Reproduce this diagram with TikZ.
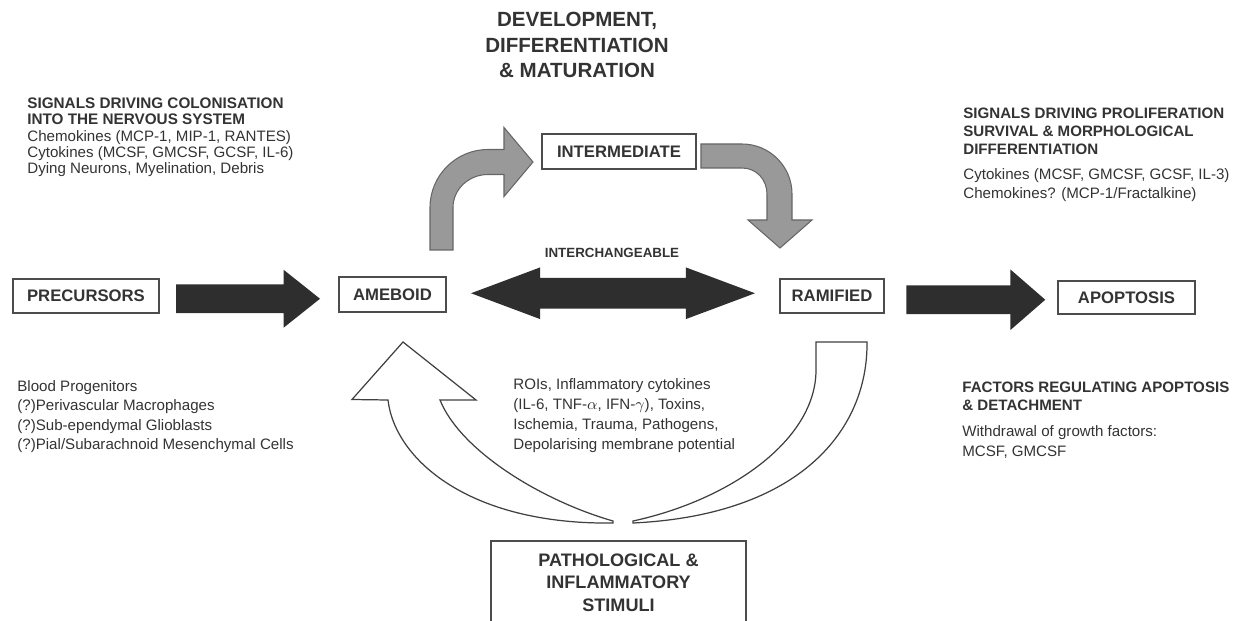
\documentclass[tikz,border=0pt]{standalone}
\usepackage{fontspec}
\setmainfont{Liberation Sans}
\usetikzlibrary{shapes.arrows,calc}

\tikzset{
  stage/.style={draw=black!70, line width=0.8pt, inner sep=0pt, text=black!80,
    font=\fontsize{9.5}{11}\selectfont\bfseries},
  head/.style={anchor=north west, inner sep=0pt, align=left, text=black!80},
  bigarrow/.style={single arrow, fill=black!82, inner xsep=0pt, inner ysep=0.28cm,
    single arrow head extend=0.29cm, single arrow tip angle=77, single arrow head indent=0pt},
  swaparrow/.style={double arrow, fill=black!82, inner xsep=0pt, inner ysep=0.3cm,
    double arrow head extend=0.21cm, double arrow tip angle=41, double arrow head indent=0pt},
  grayarrow/.style={fill=black!40, draw=black!60, line width=0.6pt},
  openarrow/.style={fill=white, draw=black!75, line width=0.7pt}
}

\begin{document}
\begin{tikzpicture}[x=0.02cm, y=-0.02cm]
\useasboundingbox (0,0) rectangle (1246,621);
% Title
\node [anchor=north, inner sep=0pt, align=center, text=black!80,
  font=\fontsize{11.7}{14.5}\selectfont\bfseries] (title) at (577,12)
  {DEVELOPMENT,\\DIFFERENTIATION\\\& MATURATION};
% Stages
\node [stage, minimum width=2.92cm, minimum height=0.68cm] (prec) at (86,296) {PRECURSORS};
\node [stage, minimum width=2.14cm, minimum height=0.70cm] (ameb) at (392.5,294.5) {AMEBOID};
\node [stage, minimum width=3.08cm, minimum height=0.70cm] (inter) at (619,151.5) {INTERMEDIATE};
\node [stage, minimum width=2.08cm, minimum height=0.68cm] (ram) at (832,296) {RAMIFIED};
\node [stage, minimum width=2.74cm, minimum height=0.66cm] (apop) at (1126.5,297.5) {APOPTOSIS};
\node [stage, minimum width=5.10cm, minimum height=1.66cm, align=center,
  font=\fontsize{10.3}{12.9}\selectfont\bfseries] (patho) at (618.5,582.5)
  {PATHOLOGICAL \&\\INFLAMMATORY\\STIMULI};
% Straight arrows
\node [bigarrow, minimum height=2.88cm, xshift=-0.2cm, yshift=-0.07cm] (toameb) at ($(prec.east)!0.5!(ameb.west)$) {};
\node [swaparrow, minimum height=5.68cm, yshift=0.04cm] (swap) at ($(ameb.east)!0.5!(ram.west)$) {};
\node [bigarrow, minimum height=2.78cm, single arrow head extend=0.32cm, single arrow tip angle=82,
  xshift=-0.07cm, yshift=-0.06cm] (toapop) at ($(ram.east)!0.5!(apop.west)$) {};
\node [anchor=north, inner sep=0pt, text=black!80, font=\fontsize{7.6}{9}\selectfont\bfseries]
  (swaplabel) at (612,248) {INTERCHANGEABLE};
% Curved grey arrows
\filldraw [grayarrow] (430,250) -- (430,207.5) .. controls (430,175.5) and (456,149.5) .. (488,149.5)
  -- (504,149.5) -- (504,127.5) -- (533,162) -- (504,196.5) -- (504,174.5) -- (488,174.5)
  .. controls (468.7,174.5) and (453,189.3) .. (453,207.5) -- (453,250) -- cycle;
\filldraw [grayarrow] (701,144) -- (742,144) .. controls (769.6,144) and (792,166.4) .. (792,194)
  -- (792,220) -- (812,220) -- (780,248) -- (748,220) -- (767,220) -- (767,194)
  .. controls (767,179.6) and (756.4,168) .. (742,168) -- (701,168) -- cycle;
% Open arrows from the stimuli
\filldraw [openarrow] (613,523) .. controls (470,525) and (395,460) .. (388,400) -- (352,399.5)
  -- (403,342) -- (476,400) -- (440,400) .. controls (460,450) and (540,500) .. (613,521) -- cycle;
\filldraw [openarrow] (633,523) .. controls (800,515) and (868,430) .. (867,342) -- (816,342)
  -- (816,370) .. controls (816,440) and (730,500) .. (633,521) -- cycle;
% Colonisation signals
\node [head, font=\fontsize{8.7}{9.1}\selectfont\bfseries] (colhead) at (27,97)
  {SIGNALS DRIVING COLONISATION\\INTO THE NERVOUS SYSTEM};
\node [head, font=\fontsize{8.6}{9.1}\selectfont] (colbody) at (27,130)
  {Chemokines (MCP-1, MIP-1, RANTES)\\Cytokines (MCSF, GMCSF, GCSF, IL-6)\\Dying Neurons, Myelination, Debris};
% Proliferation signals
\node [head, font=\fontsize{8.6}{10.2}\selectfont\bfseries] (prolhead) at (963,108)
  {SIGNALS DRIVING PROLIFERATION\\SURVIVAL \& MORPHOLOGICAL\\DIFFERENTIATION};
\node [head, font=\fontsize{8.6}{10.8}\selectfont] (prolbody) at (963,168)
  {Cytokines (MCSF, GMCSF, GCSF, IL-3)\\Chemokines? (MCP-1/Fractalkine)};
% Origins
\node [head, font=\fontsize{8.6}{11.1}\selectfont] (origins) at (17,380)
  {Blood Progenitors\\(?)Perivascular Macrophages\\(?)Sub-ependymal Glioblasts\\(?)Pial/Subarachnoid Mesenchymal Cells};
% Stimuli
\node [head, font=\fontsize{8.6}{11.5}\selectfont] (stimtext) at (513,378)
  {ROIs, Inflammatory cytokines\\(IL-6, TNF-$\alpha$, IFN-$\gamma$), Toxins,\\Ischemia, Trauma, Pathogens,\\Depolarising membrane potential};
% Apoptosis factors
\node [head, font=\fontsize{8.6}{10.2}\selectfont\bfseries] (apophead) at (962,382)
  {FACTORS REGULATING APOPTOSIS\\\& DETACHMENT};
\node [head, font=\fontsize{8.6}{11.4}\selectfont] (apopbody) at (962,425)
  {Withdrawal of growth factors:\\MCSF, GMCSF};
\end{tikzpicture}
\end{document}
